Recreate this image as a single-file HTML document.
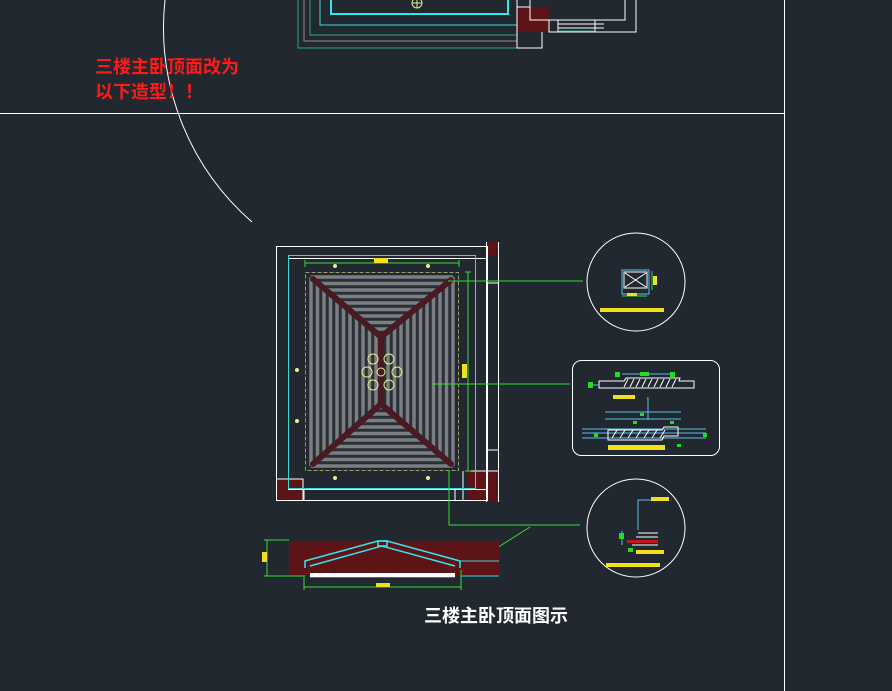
<!DOCTYPE html>
<html><head><meta charset="utf-8"><style>
html,body{margin:0;padding:0;background:#212830;}
svg{display:block;}
text{font-family:"Liberation Sans","Noto Sans CJK SC",sans-serif;}
</style></head><body>
<svg width="892" height="691" viewBox="0 0 892 691" xmlns="http://www.w3.org/2000/svg">
<rect width="892" height="691" fill="#212830"/>
<!-- top partial plan -->
<g fill="none">
<path d="M298 0V48H517" stroke="#2fa38f" stroke-width="1"/>
<path d="M304 0V41H517" stroke="#8a8f95" stroke-width="1"/>
<path d="M310 0V35H517" stroke="#2fa38f" stroke-width="1"/>
<path d="M320 0V25H517" stroke="#3fd6d6" stroke-width="1"/>
<path d="M331 0V14H508V0" stroke="#33e6ee" stroke-width="2"/>
<rect x="517" y="7" width="32" height="25" fill="#5e1416" stroke="none"/>
<path d="M517 0V48H542V32M517 7H530V0M530 0V20H625V0M549 20V32H558V20M558 32H604M558 28H604M558 24H604M595 20V32H636V0" stroke="#fff" stroke-width="1"/>
<path d="M559 31H594" stroke="#2fa38f"/>
<circle cx="417" cy="3" r="5" stroke="#e8f08a"/>
<path d="M412 3H422M417 -2V8" stroke="#e8f08a"/>
</g>
<path d="M165 0 A258 258 0 0 0 252 222" fill="none" stroke="#fff" stroke-width="1"/>
<line x1="0" y1="113.5" x2="784" y2="113.5" stroke="#fff"/>
<line x1="784.5" y1="0" x2="784.5" y2="691" stroke="#fff"/>
<text x="95" y="73" font-size="18" font-weight="bold" fill="#ff1a1a">三楼主卧顶面改为</text>
<text x="95" y="98" font-size="18" font-weight="bold" fill="#ff1a1a">以下造型！！</text>
<!-- main plan -->
<rect x="276" y="479" width="27" height="22" fill="#5e1416"/>
<rect x="468" y="471" width="30" height="30" fill="#5e1416"/>
<rect x="487" y="242" width="11" height="13" fill="#5e1416"/>
<g fill="none" stroke="#fff" stroke-width="1">
<rect x="276.5" y="246.5" width="211" height="254"/>
<path d="M486.5 242V502M498.5 242V502M276.5 479H303V501M468 471H498M486 283H498M486 450H498M463 471V501M455 490V501M304 490V501"/>
<rect x="288.5" y="258.5" width="198" height="231"/>
</g>
<rect x="288.5" y="255.5" width="187" height="233" fill="none" stroke="#3fd6d6"/>
<!-- stripes -->
<rect x="309" y="275" width="146" height="193" fill="#2a2f36"/>
<g stroke="#7b7f84" stroke-width="3.5" fill="none">
<path d="M311 277H453M319 283.5H445M326 290H438M334 296.5H430M341 303H423M349 309.5H415M356 316H408M364 322.5H400M372 329H392M379 335.5H385"/>
<path d="M311 466H453M319 459.5H445M326 453H438M334 446.5H430M341 440H423M348 433.5H416M356 427H408M363 420.5H401M371 414H393M378 407.5H386"/>
<path d="M311 277V466M317.5 282.4V460.4M324 288.1V454.7M330.5 293.8V448.9M337 299.5V443.1M343.5 305.2V437.3M350 310.9V431.6M356.5 316.6V425.8M363 322.3V420M369.5 328V414.2M376 333.6V408.4"/>
<path d="M453 277V466M446.5 282.4V460.4M440 288.1V454.7M433.5 293.8V448.9M427 299.5V443.1M420.5 305.2V437.3M414 310.9V431.6M407.5 316.6V425.8M401 322.3V420M394.5 328V414.2M388 333.6V408.4"/>
</g>
<g stroke="#4a1a22" stroke-width="6" stroke-linecap="round" fill="none">
<path d="M313 279L381 337L451 280M381 337V403M313 464L381 404L451 464"/>
</g>
<rect x="305.5" y="272.5" width="153" height="198" fill="none" stroke="#9a9a6a" stroke-dasharray="4 2"/>
<g fill="none" stroke="#e8f08a" stroke-width="1">
<circle cx="373" cy="359" r="5"/><circle cx="389" cy="359" r="5"/>
<circle cx="367" cy="372" r="5"/><circle cx="397" cy="372" r="5"/>
<circle cx="373" cy="385" r="5"/><circle cx="389" cy="385" r="5"/>
<circle cx="381" cy="372" r="4"/>
</g>
<g fill="#e8f08a"><circle cx="335" cy="266" r="2"/><circle cx="428" cy="266" r="2"/><circle cx="297" cy="370" r="2"/><circle cx="297" cy="421" r="2"/><circle cx="335" cy="478" r="2"/><circle cx="428" cy="478" r="2"/></g>
<g stroke="#33dd33" fill="none">
<path d="M305 263H459M305 260V267M459 260V267M468 272V471M465 272H471M465 471H471"/>
<path d="M448 281H583M432 384H570M449 470V525H580M462 570L530 527"/>
</g>
<rect x="374" y="258" width="14" height="5" fill="#f0e020"/>
<rect x="462" y="364" width="5" height="14" fill="#f0e020"/>
<!-- detail circle 1 -->
<circle cx="636" cy="282" r="49" fill="none" stroke="#fff"/>
<rect x="622" y="270" width="27" height="24" fill="none" stroke="#5bc0f0"/>
<path d="M625 273L646 287M646 273L625 287" stroke="#fff"/>
<rect x="624" y="272" width="23" height="16" fill="none" stroke="#fff"/>
<path d="M622 296H647M652 271V290" stroke="#33dd33"/>
<rect x="627" y="293" width="10" height="3" fill="#f0e020"/>
<rect x="653" y="276" width="4" height="9" fill="#f0e020"/>
<rect x="600" y="308" width="64" height="4" fill="#f0e020"/>
<!-- detail box -->
<rect x="572.5" y="360.5" width="147" height="95" rx="9" fill="none" stroke="#fff"/>
<path d="M599 381H624L626 378H680L679 381H694V388H599Z" fill="none" stroke="#fff"/>
<path d="M628 379L624 387M634 379L630 387M640 379L636 387M646 379L642 387M652 379L648 387M658 379L654 387M664 379L660 387M670 379L666 387M676 379L672 387" stroke="#fff"/>
<path d="M592 385H599M622 374H672M647 398H648V420M605 412H681M605 419H681M582 429H706M582 433H706M582 438H706" stroke="#5bc0f0" fill="none"/>
<path d="M608 430H662L664 427H678V436H664L662 440H608Z" fill="none" stroke="#fff"/>
<path d="M612 438L617 430M620 438L625 430M628 438L633 430M636 438L641 430M644 438L649 430M652 438L657 430M660 438L665 430" stroke="#fff"/>
<g fill="#22dd22"><rect x="615" y="372" width="5" height="5"/><rect x="640" y="372" width="9" height="4"/><rect x="670" y="372" width="5" height="5"/><rect x="588" y="382" width="5" height="6"/><rect x="640" y="413" width="4" height="3"/><rect x="633" y="421" width="4" height="3"/><rect x="670" y="421" width="4" height="3"/><rect x="594" y="433" width="4" height="4"/><rect x="703" y="433" width="4" height="4"/><rect x="677" y="444" width="4" height="3"/></g>
<rect x="613" y="395" width="22" height="4" fill="#f0e020"/>
<rect x="608" y="445" width="57" height="5" fill="#f0e020"/>
<!-- detail circle 3 -->
<circle cx="636" cy="528" r="49" fill="none" stroke="#fff"/>
<path d="M669 500H638V530M622 531V545" stroke="#5bc0f0" fill="none"/>
<path d="M638 533H658M636 537H658M634 541H658M632 545H658" stroke="#fff"/>
<rect x="627" y="540" width="31" height="3" fill="#c01818"/>
<rect x="651" y="497" width="18" height="4" fill="#f0e020"/>
<rect x="636" y="550" width="28" height="4" fill="#f0e020"/>
<rect x="606" y="563" width="54" height="4" fill="#f0e020"/>
<rect x="619" y="533" width="5" height="6" fill="#22dd22"/>
<rect x="628" y="548" width="5" height="4" fill="#22dd22"/>
<!-- section -->
<rect x="289" y="541" width="210" height="35" fill="#5e1416"/>
<g fill="none" stroke="#33e6ee" stroke-width="1.5">
<path d="M305 568V561L378 541H387L460 561V568"/>
<path d="M310 566L382 546L455 566"/>
<rect x="378" y="541" width="9" height="5"/>
</g>
<path d="M461 561H499M461 576H499" stroke="#3fd6d6"/>
<rect x="310" y="573" width="145" height="4" fill="#fff"/>
<line x1="310" y1="577.5" x2="455" y2="577.5" stroke="#e03030"/>
<g stroke="#33dd33" fill="none">
<path d="M267 540V576M264 540H289M264 576H305M304 587H461M304 577V590M461 570V590"/>
</g>
<rect x="262" y="552" width="5" height="10" fill="#f0e020"/>
<rect x="376" y="583" width="14" height="4" fill="#f0e020"/>
<text x="496" y="622" font-size="18" font-weight="bold" fill="#fff" text-anchor="middle">三楼主卧顶面图示</text>
</svg>
</body></html>
